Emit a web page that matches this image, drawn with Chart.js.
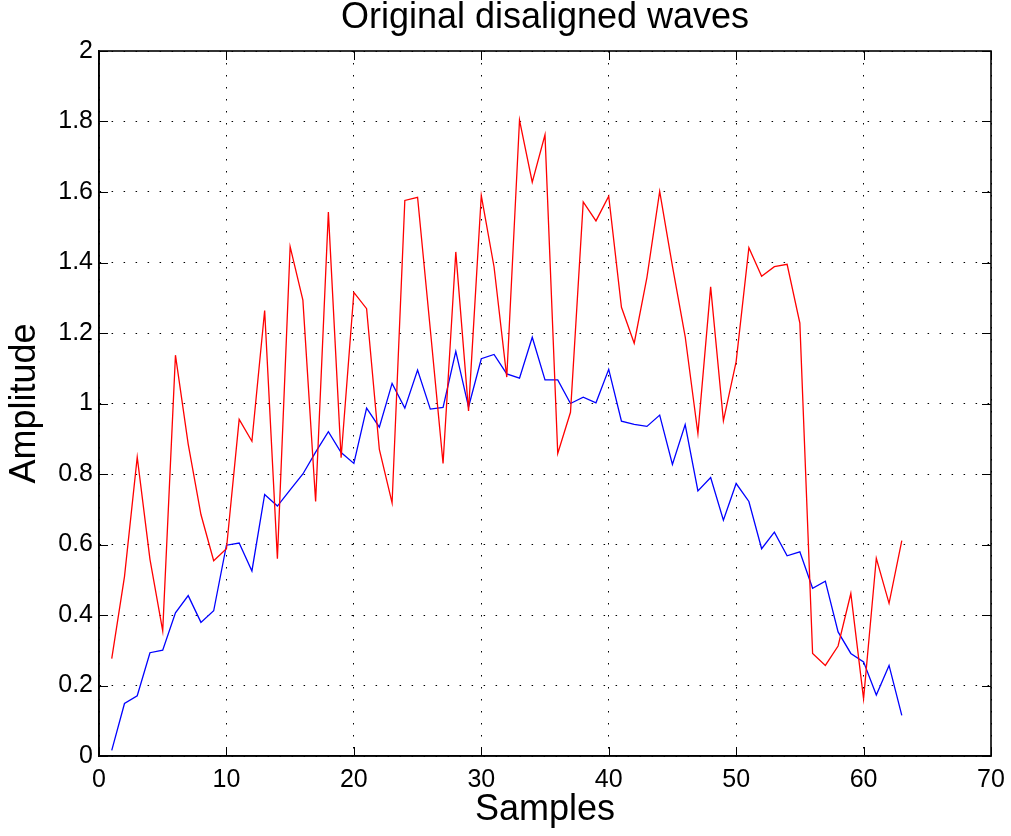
<!DOCTYPE html>
<html>
<head>
<meta charset="utf-8">
<script src="https://cdn.jsdelivr.net/npm/chart.js@4/dist/chart.umd.min.js"></script>
<style>
  html, body { margin: 0; padding: 0; background: #fff; }
  canvas { display: block; }
</style>
</head>
<body>
<canvas id="c" width="1011" height="836"></canvas>
<script>
const samples = [1,2,3,4,5,6,7,8,9,10,11,12,13,14,15,16,17,18,19,20,21,22,23,24,25,26,27,28,29,30,31,32,33,34,35,36,37,38,39,40,41,42,43,44,45,46,47,48,49,50,51,52,53,54,55,56,57,58,59,60,61,62,63];

const redWave = [0.276,0.509,0.848,0.558,0.355,1.137,0.885,0.685,0.554,0.588,
  0.955,0.893,1.264,0.560,1.445,1.293,0.722,1.543,0.846,1.315,
  1.269,0.870,0.718,1.576,1.585,1.210,0.830,1.430,0.979,1.590,
  1.388,1.075,1.804,1.628,1.762,0.858,0.975,1.572,1.518,1.588,
  1.273,1.171,1.358,1.602,1.390,1.190,0.915,1.331,0.951,1.119,
  1.442,1.361,1.388,1.395,1.228,0.291,0.257,0.312,0.461,0.162,
  0.561,0.433,0.611];

const blueWave = [0.016,0.149,0.171,0.293,0.300,0.406,0.455,0.379,0.412,0.598,
  0.604,0.525,0.742,0.709,0.755,0.800,0.862,0.920,0.861,0.830,
  0.987,0.933,1.057,0.987,1.095,0.984,0.989,1.148,0.990,1.127,
  1.139,1.084,1.072,1.188,1.067,1.067,1.000,1.018,1.002,1.097,
  0.950,0.941,0.935,0.967,0.827,0.940,0.752,0.790,0.669,0.773,
  0.722,0.588,0.635,0.568,0.579,0.476,0.496,0.352,0.291,0.267,
  0.173,0.257,0.115];

const xTicks = [0,10,20,30,40,50,60,70];
const xTickLabels = ['0','10','20','30','40','50','60','70'];
const yTicks = [0,0.2,0.4,0.6,0.8,1,1.2,1.4,1.6,1.8,2];
const yTickLabels = ['0','0.2','0.4','0.6','0.8','1','1.2','1.4','1.6','1.8','2'];

const FONT = "'Liberation Sans', Arial, Helvetica, sans-serif";

const boxPlugin = {
  id: 'matlabBox',
  afterDraw(chart) {
    const {ctx, chartArea: a, scales} = chart;
    ctx.save();
    ctx.strokeStyle = '#000';
    ctx.lineWidth = 1;
    ctx.setLineDash([]);
    const tl = 9;
    ctx.beginPath();
    scales.x.ticks.forEach(t => {
      const px = Math.round(scales.x.getPixelForValue(t.value)) + 0.5;
      ctx.moveTo(px, a.bottom); ctx.lineTo(px, a.bottom - tl);
      ctx.moveTo(px, a.top); ctx.lineTo(px, a.top + tl);
    });
    scales.y.ticks.forEach(t => {
      const py = Math.round(scales.y.getPixelForValue(t.value)) + 0.5;
      ctx.moveTo(a.left, py); ctx.lineTo(a.left + tl, py);
      ctx.moveTo(a.right, py); ctx.lineTo(a.right - tl, py);
    });
    ctx.stroke();
    ctx.lineWidth = 1.6;
    ctx.strokeRect(a.left, a.top, a.right - a.left, a.bottom - a.top);
    ctx.restore();
  }
};

new Chart(document.getElementById('c'), {
  type: 'line',
  data: {
    datasets: [
      {
        label: 'red',
        data: samples.map((s, i) => ({x: s, y: redWave[i]})),
        borderColor: '#ff0000',
        borderWidth: 1.3,
        pointRadius: 0,
        tension: 0,
        fill: false
      },
      {
        label: 'blue',
        data: samples.map((s, i) => ({x: s, y: blueWave[i]})),
        borderColor: '#0000ff',
        borderWidth: 1.3,
        pointRadius: 0,
        tension: 0,
        fill: false
      }
    ]
  },
  options: {
    responsive: false,
    animation: false,
    devicePixelRatio: 1,
    layout: { padding: { left: 0, right: 20, top: 0, bottom: 0 } },
    plugins: {
      legend: { display: false },
      tooltip: { enabled: false },
      title: {
        display: true,
        fullSize: false,
        text: 'Original disaligned waves',
        color: '#000',
        font: { family: FONT, size: 36, weight: 'normal', lineHeight: 1 },
        padding: { top: 0, bottom: 15 }
      }
    },
    scales: {
      x: {
        type: 'linear',
        min: 0, max: 70,
        afterBuildTicks: s => { s.ticks = xTicks.map(v => ({value: v})); },
        afterFit: s => { s.height = 80; s.paddingLeft = 0; s.paddingRight = 0; },
        ticks: {
          color: '#000',
          font: { family: FONT, size: 25 },
          padding: 9,
          maxRotation: 0,
          callback: (v, i) => xTickLabels[i]
        },
        grid: { color: '#000', lineWidth: 1, drawTicks: false },
        border: { display: true, color: '#000', width: 1.6, dash: [1.5, 10.5] },
        title: {
          display: true,
          text: 'Samples',
          color: '#000',
          font: { family: FONT, size: 36, lineHeight: 1 },
          padding: { top: 0, bottom: 8 }
        }
      },
      y: {
        type: 'linear',
        min: 0, max: 2,
        afterBuildTicks: s => { s.ticks = yTicks.map(v => ({value: v})); },
        afterFit: s => { s.width = 99; s.paddingTop = 0; s.paddingBottom = 0; },
        ticks: {
          color: '#000',
          font: { family: FONT, size: 25 },
          padding: 6,
          callback: (v, i) => yTickLabels[i]
        },
        grid: { color: '#000', lineWidth: 1, drawTicks: false },
        border: { display: true, color: '#000', width: 1.6, dash: [1.5, 10.5] },
        title: {
          display: true,
          text: 'Amplitude',
          color: '#000',
          font: { family: FONT, size: 36, lineHeight: 1 },
          padding: { top: 7, bottom: 0 }
        }
      }
    }
  },
  plugins: [boxPlugin]
});
</script>
</body>
</html>
